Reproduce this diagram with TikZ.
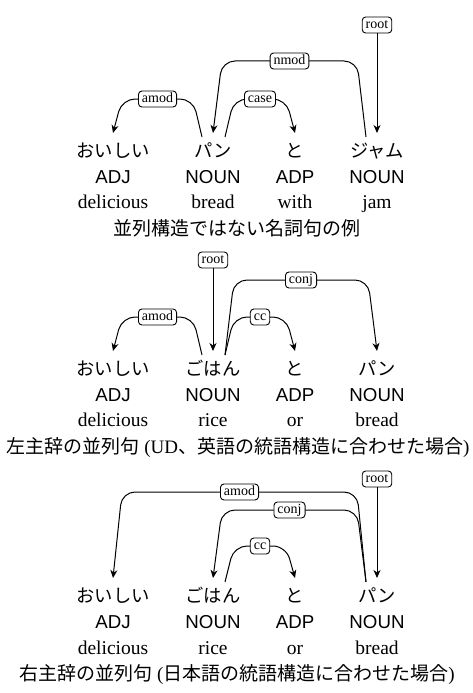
\documentclass[tikz,border=0pt]{standalone}
\usepackage{fontspec}
\setmainfont{Liberation Serif}
\setsansfont{Liberation Sans}
\newfontfamily\jp{Noto Sans CJK JP}
\usetikzlibrary{arrows.meta,calc}
\tikzset{
 word/.style={anchor=base, inner sep=0pt, font=\jp\fontsize{18.3}{20}\selectfont},
 postag/.style={anchor=base, inner sep=0pt, font=\sffamily\fontsize{18.7}{20}\selectfont},
 gloss/.style={anchor=base, inner sep=0pt, font=\fontsize{19.5}{21}\selectfont},
 capt/.style={anchor=base, inner sep=0pt, font=\fontsize{19}{21}\selectfont},
 lab/.style={draw, fill=white, rounded corners=3.5pt, line width=0.9pt, inner xsep=3.5pt, inner ysep=2.5pt, text height=9pt, text depth=2pt, font=\fontsize{14}{15}\selectfont},
 dep/.style={draw, line width=1pt, rounded corners=13pt, -{Stealth[length=8pt,width=7pt,inset=2.5pt]}},
}
\newcommand\deparc[5]{%
 \draw[dep] let \p1=(#1), \p2=(#2) in (#1) -- ({\x1+(#5)*1pt},{-#3pt}) -- node[lab]{#4} ({\x2-(#5)*1pt},{-#3pt}) -- (#2);}
\newcommand\wordcoords[1]{%
 \coordinate (#1t) at ($(#1.base)+(0,-24)$);
 \coordinate (#1l) at ($(#1.base)+(-11,-20)$);
 \coordinate (#1r) at ($(#1.base)+(12,-20)$);}
\begin{document}
\begin{tikzpicture}[x=1pt,y=-1pt]
\useasboundingbox (0,0) rectangle (473,693);
% ---------- panel 1
\node[word] (a1) at (113,157) {おいしい};
\node[word] (b1) at (213,157) {パン};
\node[word] (c1) at (295,157) {と};
\node[word] (d1) at (377,157) {ジャム};
\node[postag] (a1p) at (113,183) {ADJ};
\node[postag] (b1p) at (213,183) {NOUN};
\node[postag] (c1p) at (295,183) {ADP};
\node[postag] (d1p) at (377,183) {NOUN};
\node[gloss] (a1g) at (113,208) {delicious};
\node[gloss] (b1g) at (213,208) {bread};
\node[gloss] (c1g) at (295,208) {with};
\node[gloss] (d1g) at (377,208) {jam};
\node[capt] (cap1) at (237,235) {\jp 並列構造ではない名詞句の例};
\wordcoords{a1}\wordcoords{b1}\wordcoords{c1}\wordcoords{d1}
\node[lab] (r1) at (377,25) {root};
\draw[dep] (r1) -- (d1t);
\deparc{d1l}{b1t}{61}{nmod}{-9}
\deparc{b1l}{a1t}{99}{amod}{-9}
\deparc{b1r}{c1t}{99}{case}{9}
% ---------- panel 2
\node[word] (a2) at (113,375) {おいしい};
\node[word] (b2) at (213,375) {ごはん};
\node[word] (c2) at (295,375) {と};
\node[word] (d2) at (377,375) {パン};
\node[postag] (a2p) at (113,401) {ADJ};
\node[postag] (b2p) at (213,401) {NOUN};
\node[postag] (c2p) at (295,401) {ADP};
\node[postag] (d2p) at (377,401) {NOUN};
\node[gloss] (a2g) at (113,426) {delicious};
\node[gloss] (b2g) at (213,426) {rice};
\node[gloss] (c2g) at (295,426) {or};
\node[gloss] (d2g) at (377,426) {bread};
\node[capt] (cap2) at (238,453) {{\jp 左主辞の並列句} (UD{\jp 、英語の統語構造に合わせた場合})};
\wordcoords{a2}\wordcoords{b2}\wordcoords{c2}\wordcoords{d2}
\node[lab] (r2) at (213,260) {root};
\draw[dep] (r2) -- (b2t);
\deparc{b2r}{d2t}{280}{conj}{9}
\deparc{b2l}{a2t}{317}{amod}{-9}
\deparc{b2r}{c2t}{317}{cc}{9}
% ---------- panel 3
\node[word] (a3) at (113,602) {おいしい};
\node[word] (b3) at (213,602) {ごはん};
\node[word] (c3) at (295,602) {と};
\node[word] (d3) at (377,602) {パン};
\node[postag] (a3p) at (113,628) {ADJ};
\node[postag] (b3p) at (213,628) {NOUN};
\node[postag] (c3p) at (295,628) {ADP};
\node[postag] (d3p) at (377,628) {NOUN};
\node[gloss] (a3g) at (113,654) {delicious};
\node[gloss] (b3g) at (213,654) {rice};
\node[gloss] (c3g) at (295,654) {or};
\node[gloss] (d3g) at (377,654) {bread};
\node[capt] (cap3) at (237,680) {{\jp 右主辞の並列句} ({\jp 日本語の統語構造に合わせた場合})};
\wordcoords{a3}\wordcoords{b3}\wordcoords{c3}\wordcoords{d3}
\node[lab] (r3) at (377,479) {root};
\draw[dep] (r3) -- (d3t);
\deparc{d3l}{a3t}{492}{amod}{-9}
\deparc{d3l}{b3t}{510}{conj}{-9}
\deparc{b3r}{c3t}{546}{cc}{9}
\end{tikzpicture}
\end{document}
